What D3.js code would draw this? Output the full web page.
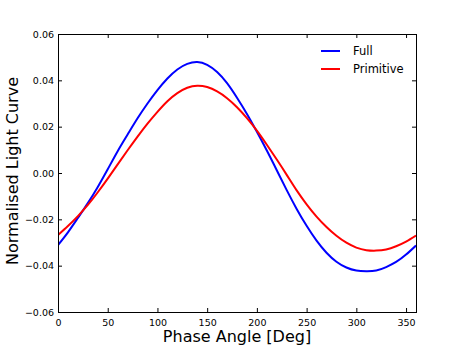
<!DOCTYPE html>
<html>
<head>
<meta charset="utf-8">
<script src="https://cdn.jsdelivr.net/npm/d3@7"></script>
<style>
  body { margin: 0; background: #fff; }
  text { font-family: "DejaVu Sans", sans-serif; }
</style>
</head>
<body>
<div id="chart"></div>
<script>
// phase angle samples (deg) and the two light curves
const phase = [0, 10, 20, 30, 40, 50, 60, 70, 80, 90, 100, 110, 120, 130, 140, 150, 160, 170, 180,
               190, 200, 210, 220, 230, 240, 250, 260, 270, 280, 290, 300, 310, 320, 330, 340, 350, 360];
const fullCurve = [-0.0311, -0.0256, -0.0194, -0.0130, -0.0060, 0.0016, 0.0094, 0.0166, 0.0236, 0.0300,
                   0.0358, 0.0408, 0.0447, 0.0471, 0.0479, 0.0467, 0.0436, 0.0388, 0.0325,
                   0.0255, 0.0178, 0.0097, 0.0012, -0.0074, -0.0155, -0.0228, -0.0292, -0.0344, -0.0383,
                   -0.0408, -0.0421, -0.0424, -0.0421, -0.0406, -0.0384, -0.0352, -0.0313];
const primitiveCurve = [-0.0268, -0.0229, -0.0186, -0.0138, -0.0083, -0.0024, 0.0037, 0.0098, 0.0157, 0.0213,
                        0.0264, 0.0310, 0.0345, 0.0368, 0.0377, 0.0371, 0.0352, 0.0323, 0.0284,
                        0.0237, 0.0183, 0.0122, 0.0058, -0.0008, -0.0075, -0.0135, -0.0188, -0.0233, -0.0271,
                        -0.0301, -0.0322, -0.0333, -0.0335, -0.0330, -0.0316, -0.0296, -0.0270];
const seriesNames = ["Full", "Primitive"];
const seriesColors = ["#0000ff", "#ff0000"];
const xTicks = [0, 50, 100, 150, 200, 250, 300, 350];
const yTicks = [-0.06, -0.04, -0.02, 0.00, 0.02, 0.04, 0.06];

const width = 463, height = 348;
const margin = {top: 34, right: 47, bottom: 36, left: 58};
const w = width - margin.left - margin.right,
      h = height - margin.top - margin.bottom;

const svg = d3.select("#chart").append("svg")
  .attr("width", width)
  .attr("height", height);

const g = svg.append("g")
  .attr("transform", `translate(${margin.left},${margin.top})`);

const x = d3.scaleLinear().domain([0, 360]).range([0, w]);
const y = d3.scaleLinear().domain([-0.06, 0.06]).range([h, 0]);

g.append("clipPath").attr("id", "clip")
  .append("rect").attr("width", w).attr("height", h);

// curves
const line = d3.line()
  .x(function(d) { return x(d[0]); })
  .y(function(d) { return y(d[1]); })
  .curve(d3.curveNatural);

[fullCurve, primitiveCurve].forEach(function(vals, i) {
  g.append("path")
    .datum(phase.map(function(p, j) { return [p, vals[j]]; }))
    .attr("clip-path", "url(#clip)")
    .attr("fill", "none")
    .attr("stroke", seriesColors[i])
    .attr("stroke-width", 2)
    .attr("d", line);
});

// axes, ticks pointing inward on all four sides
const fmtY = d3.format(".2f");
function styleAxis(sel) {
  sel.select(".domain").remove();
  sel.selectAll(".tick line").attr("stroke", "#000");
  sel.selectAll(".tick text").attr("font-size", "9.5px").attr("fill", "#000")
    .attr("font-family", "DejaVu Sans, sans-serif");
}

g.append("g").attr("transform", `translate(0,${h})`)
  .call(d3.axisBottom(x).tickValues(xTicks).tickSizeInner(-4).tickSizeOuter(0).tickPadding(7))
  .call(styleAxis);
g.append("g")
  .call(d3.axisTop(x).tickValues(xTicks).tickSizeInner(-4).tickSizeOuter(0).tickFormat(""))
  .call(styleAxis);
g.append("g")
  .call(d3.axisLeft(y).tickValues(yTicks).tickSizeInner(-4).tickSizeOuter(0).tickPadding(4).tickFormat(fmtY))
  .call(styleAxis);
g.append("g").attr("transform", `translate(${w},0)`)
  .call(d3.axisRight(y).tickValues(yTicks).tickSizeInner(-4).tickSizeOuter(0).tickFormat(""))
  .call(styleAxis);

// frame
g.append("rect")
  .attr("x", 0.5).attr("y", 0.5)
  .attr("width", w).attr("height", h)
  .attr("fill", "none")
  .attr("stroke", "#000")
  .attr("stroke-width", 1);

// axis labels
svg.append("text")
  .attr("x", margin.left + w / 2)
  .attr("y", 342)
  .attr("text-anchor", "middle")
  .attr("font-size", "16px")
  .text("Phase Angle [Deg]");

svg.append("text")
  .attr("transform", `translate(18,${margin.top + h / 2 - 2}) rotate(-90)`)
  .attr("text-anchor", "middle")
  .attr("font-size", "16px")
  .text("Normalised Light Curve");

// legend, no frame
const legend = svg.append("g").attr("transform", "translate(321,51)");
seriesNames.forEach(function(name, i) {
  const row = legend.append("g").attr("transform", `translate(0,${i * 18})`);
  row.append("line")
    .attr("x1", 0).attr("x2", 19)
    .attr("stroke", seriesColors[i]).attr("stroke-width", 2);
  row.append("text")
    .attr("x", 32).attr("y", 4)
    .attr("font-size", "11.5px")
    .text(name);
});
</script>
</body>
</html>
